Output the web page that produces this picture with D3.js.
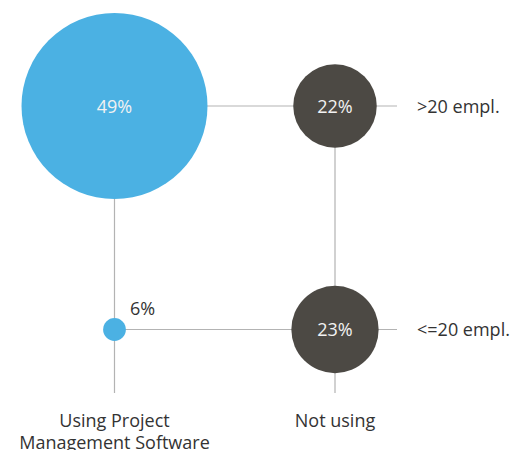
<!DOCTYPE html>
<html>
<head>
<meta charset="utf-8">
<script src="https://cdn.jsdelivr.net/npm/d3@7"></script>
<style>
  html, body { margin: 0; padding: 0; background: #fff; }
  svg { display: block; font-family: "Open Sans", "Noto Sans", sans-serif; }
</style>
</head>
<body>
<svg id="chart" width="531" height="450"></svg>
<script>
// Columns: software usage; rows: company size
const columns = ["Using Project Management Software", "Not using"];
const columnLabels = [["Using Project", "Management Software"], ["Not using"]];
const rows = [">20 empl.", "<=20 empl."];
const usingValues = [49, 6];
const notUsingValues = [22, 23];

const cells = [];
rows.forEach((r, i) => {
  cells.push({ col: columns[0], row: r, value: usingValues[i] });
  cells.push({ col: columns[1], row: r, value: notUsingValues[i] });
});

const svg = d3.select("#chart");

const x = d3.scalePoint().domain(columns).range([114.5, 335]);
const y = d3.scalePoint().domain(rows).range([106, 329.5]);
const r = d3.scaleLinear().domain([0, 49]).range([0, 93]);
const color = d3.scaleOrdinal().domain(columns).range(["#4bb1e3", "#4c4944"]);

const lineColor = "#b3b3b3";
const gridRight = 397;
const gridBottom = 393;
const fontSize = 18;

// grid lines
const grid = svg.append("g");
grid.selectAll("line.h").data(rows).join("line")
  .attr("x1", x(columns[0])).attr("x2", gridRight)
  .attr("y1", d => y(d)).attr("y2", d => y(d))
  .attr("stroke", lineColor).attr("stroke-width", 1.2);
grid.selectAll("line.v").data(columns).join("line")
  .attr("x1", d => x(d)).attr("x2", d => x(d))
  .attr("y1", y(rows[0])).attr("y2", gridBottom)
  .attr("stroke", lineColor).attr("stroke-width", 1.2);

// bubbles
svg.append("g").selectAll("circle").data(cells).join("circle")
  .attr("cx", d => x(d.col))
  .attr("cy", d => y(d.row))
  .attr("r", d => r(d.value))
  .attr("fill", d => color(d.col));

// value labels: inside when the bubble is large enough, otherwise beside it
svg.append("g").selectAll("text").data(cells).join("text")
  .attr("x", d => r(d.value) > 25 ? x(d.col) : x(d.col) + r(d.value) + 4)
  .attr("y", d => r(d.value) > 25 ? y(d.row) + 6.5 : y(d.row) - 15)
  .attr("text-anchor", d => r(d.value) > 25 ? "middle" : "start")
  .attr("font-size", fontSize)
  .attr("fill", d => r(d.value) > 25 ? "#f2f2f2" : "#333")
  .text(d => d.value + "%");

// row labels
svg.append("g").selectAll("text").data(rows).join("text")
  .attr("x", 417)
  .attr("y", d => y(d) + 6.5)
  .attr("font-size", fontSize)
  .attr("fill", "#333")
  .text(d => d);

// column labels
const colG = svg.append("g").selectAll("text").data(columns).join("text")
  .attr("x", d => x(d))
  .attr("y", 426.5)
  .attr("text-anchor", "middle")
  .attr("font-size", fontSize)
  .attr("fill", "#333");
colG.selectAll("tspan").data((d, i) => columnLabels[i]).join("tspan")
  .attr("x", function() { return d3.select(this.parentNode).attr("x"); })
  .attr("dy", (d, i) => i === 0 ? 0 : 22)
  .text(d => d);
</script>
</body>
</html>
